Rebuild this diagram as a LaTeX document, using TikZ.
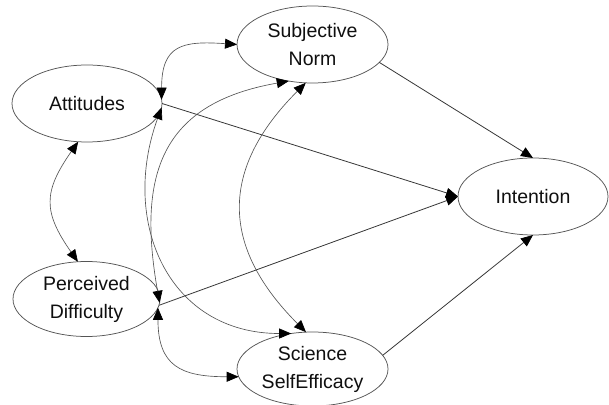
\documentclass[tikz,border=0pt]{standalone}
\usepackage{fontspec}
\setmainfont{Liberation Sans}
\usetikzlibrary{arrows.meta,shapes.geometric}
\definecolor{ln}{RGB}{85,85,85}
\definecolor{lnd}{RGB}{55,55,55}
\definecolor{tx}{RGB}{15,15,15}
\begin{document}
\begin{tikzpicture}[x=1pt,y=1pt,
  var/.style={draw=ln, line width=0.75pt, ellipse, inner sep=0pt, outer sep=0pt,
    align=center, text=tx, font=\fontsize{19.5}{28}\selectfont},
  reg/.style={draw=lnd, line width=0.8pt, -{Triangle[length=12pt,width=10pt,color=black]}},
  cov/.style={draw=ln, line width=0.65pt,
    {Triangle[length=12pt,width=10pt,color=black]}-{Triangle[length=12pt,width=10pt,color=black]}}
]
\useasboundingbox (0,0) rectangle (609,404);
\node[var, minimum width=150pt, minimum height=77pt] (att) at (87,300.5) {Attitudes};
\node[var, minimum width=151pt, minimum height=77pt] (sn) at (312.5,359.5) {Subjective\\Norm};
\node[var, minimum width=150pt, minimum height=77pt] (int) at (533,207.5) {Intention};
\node[var, minimum width=147pt, minimum height=75pt] (pd) at (86.5,105) {Perceived\\Difficulty};
\node[var, minimum width=151pt, minimum height=74pt] (sse) at (312.5,35) {Science\\SelfEfficacy};

\draw[reg] (att.east) -- (int.west);
\draw[reg] (pd.-5) -- (int.west);
\draw[reg] (sn.-15) -- (int.north);
\draw[reg] (sse.11) -- (int.south);

\draw[cov] (att.-103) to[out=235,in=125,looseness=1.3] (pd.103);
\draw[cov] (att.3) to[out=90,in=176,looseness=1.5] (sn.west);
\draw[cov] (att.-3) to[out=250,in=180,looseness=1.2] (sse.121);
\draw[cov] (sn.237) to[out=190,in=100,looseness=1.3] (pd.-3);
\draw[cov] (sn.260) to[out=225,in=135,looseness=1.25] (sse.100);
\draw[cov] (pd.-7) to[out=-90,in=180,looseness=1.4] (sse.186);
\end{tikzpicture}
\end{document}
